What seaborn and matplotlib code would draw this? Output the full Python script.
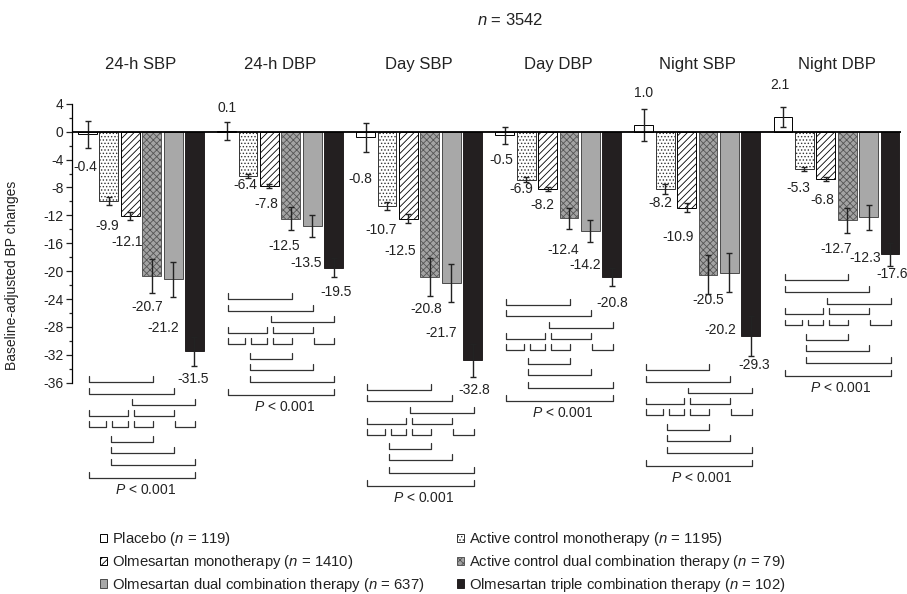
import matplotlib
matplotlib.use("Agg")
import numpy as np
import pandas as pd
import matplotlib.pyplot as plt
import seaborn as sns
from matplotlib.patches import Patch
from matplotlib.ticker import FixedLocator

# ---- data ----
measures = ["24-h SBP", "24-h DBP", "Day SBP", "Day DBP", "Night SBP", "Night DBP"]
therapies = ["Placebo", "Active control monotherapy", "Olmesartan monotherapy",
             "Active control dual combination therapy",
             "Olmesartan dual combination therapy",
             "Olmesartan triple combination therapy"]
n_counts = [119, 1195, 1410, 79, 637, 102]

placebo    = [-0.4, 0.1, -0.8, -0.5, 1.0, 2.1]
ac_mono    = [-9.9, -6.4, -10.7, -6.9, -8.2, -5.3]
olm_mono   = [-12.1, -7.8, -12.5, -8.2, -10.9, -6.8]
ac_dual    = [-20.7, -12.5, -20.8, -12.4, -20.5, -12.7]
olm_dual   = [-21.2, -13.5, -21.7, -14.2, -20.2, -12.3]
olm_triple = [-31.5, -19.5, -32.8, -20.8, -29.3, -17.6]

placebo_err    = [2.0, 1.25, 2.1, 1.2, 2.3, 1.4]
ac_mono_err    = [0.6, 0.3, 0.6, 0.35, 0.7, 0.3]
olm_mono_err   = [0.6, 0.3, 0.65, 0.3, 0.6, 0.3]
ac_dual_err    = [2.5, 1.65, 2.7, 1.5, 2.75, 1.8]
olm_dual_err   = [2.5, 1.6, 2.7, 1.6, 2.8, 1.8]
olm_triple_err = [2.1, 1.4, 2.4, 1.3, 2.9, 1.6]

values = [placebo, ac_mono, olm_mono, ac_dual, olm_dual, olm_triple]
errors = [placebo_err, ac_mono_err, olm_mono_err, ac_dual_err, olm_dual_err, olm_triple_err]

# pairwise comparisons shown under each measure (rows of brackets, bar indices)
bracket_rows = [[(0, 3)], [(0, 4)], [(2, 5)], [(0, 2), (2, 4)],
                [(0, 1), (1, 2), (2, 3), (4, 5)], [(1, 3)], [(1, 4)], [(1, 5)], [(0, 5)]]

# ---- layout: label gap below/above error bar end, label x shift (bar widths) ----
label_gap = [[2.7, 2.0, 3.9, 2.4, 2.2, 3.2],
             [3.0, 0.9, 2.8, 1.0, 1.4, 2.5],
             [3.1, 2.3, 3.9, 2.0, 3.6, 2.7],
             [1.9, 2.2, 1.9, 3.1, 0.9, 2.3],
             [4.5, 3.8, 4.5, 3.3, 5.5, 4.0],
             [1.9, 2.1, 1.9, 2.5, 1.3, 1.2]]
label_dx = [[-0.12, 0.0, -0.23, -0.14, 0.0, -0.14],
            [-0.09, -0.14, -0.30, -0.23, -0.23, -0.28],
            [-0.14, -0.14, -0.37, -0.23, -0.41, -0.14],
            [-0.19, -0.31, -0.19, -0.28, 0.0, -0.53],
            [-0.47, -0.28, -0.47, -0.26, -0.41, -0.14],
            [-0.07, 0.11, 0.07, 0.0, 0.14, 0.09]]
bracket_top = [-35.9, -24.0, -37.0, -24.8, -34.2, -21.3]
row_offsets = [0, 1.68, 3.35, 4.9, 6.5, 8.55, 10.15, 11.9, 13.8]

face = ["white", "white", "white", "#a3a3a3", "#a8a8a8", "#231f20"]
edge = ["black", "#333333", "black", "#555555", "#4a4a4a", "#231f20"]
hatch = [None, ".....", "/////", "xxxxx", None, None]

sns.set_theme(style="white")
plt.rcParams["font.family"] = ["Liberation Sans", "DejaVu Sans"]
plt.rcParams["mathtext.fontset"] = "custom"
plt.rcParams["mathtext.rm"] = "Liberation Sans"
plt.rcParams["mathtext.it"] = "Liberation Sans:italic"
plt.rcParams["axes.unicode_minus"] = False
plt.rcParams["hatch.linewidth"] = 0.6

df = pd.DataFrame({
    "measure": np.repeat([measures], len(therapies), axis=0).ravel(),
    "therapy": np.repeat(therapies, len(measures)),
    "change": np.ravel(values),
})

fig = plt.figure(figsize=(9.07, 5.94), dpi=100)
ax = fig.add_axes([0.0794, 0.1328, 0.9135, 0.7394])

sns.barplot(data=df, x="measure", y="change", hue="therapy", order=measures,
            hue_order=therapies, palette=dict(zip(therapies, face)),
            width=6 / 6.5, gap=0.12, errorbar=None, edgecolor="black",
            linewidth=0.7, legend=False, ax=ax)

bar_containers = list(ax.containers)
centers = []
for k, cont in enumerate(bar_containers):
    cx = []
    for p in cont:
        p.set_facecolor(face[k])
        p.set_edgecolor(edge[k])
        if hatch[k]:
            p.set_hatch(hatch[k])
        cx.append(p.get_x() + p.get_width() / 2)
    centers.append(cx)
    ax.errorbar(cx, values[k], yerr=errors[k], fmt="none", ecolor="#222222",
                elinewidth=1, capsize=2.5, capthick=1, zorder=4)
centers = np.array(centers)  # [therapy, measure]
s = centers[1, 0] - centers[0, 0]

# value labels
for k in range(len(therapies)):
    for g in range(len(measures)):
        v, e = values[k][g], errors[k][g]
        y = v + e + label_gap[k][g] if v > 0 else v - e - label_gap[k][g]
        ax.text(centers[k, g] + label_dx[k][g] * s, y, f"{v:.1f}", ha="center",
                va="center", fontsize=10, color="#222222")

ax.axhline(0, color="black", lw=1.3, zorder=5)

# significance brackets
tick_h = 0.85
for g in range(len(measures)):
    c = centers[:, g]
    for r, row in enumerate(bracket_rows):
        y = bracket_top[g] - row_offsets[r]
        ends = [j for _, j in row]
        starts = [i for i, _ in row]
        for i, j in row:
            x0 = c[i] + 0.08 * s
            x1 = c[j] + 0.04 * s
            if i in ends:
                x0 = c[i] + 0.16 * s
            if j in starts:
                x1 = c[j] - 0.12 * s
            ax.plot([x0, x0, x1, x1], [y + tick_h, y, y, y + tick_h],
                    color="#333333", lw=0.9, clip_on=False)
    ax.text(c.mean() + 0.2 * s, bracket_top[g] - 15.5, "$P$ < 0.001",
            ha="center", va="center", fontsize=10, color="#222222")
    ax.text(c.mean(), 9.6, measures[g], ha="center", va="center", fontsize=12,
            color="#222222")

ax.set_xlim(-0.496, 5.461)
ax.set_ylim(-55, 8)
ax.set_xticks([])
ax.set_xlabel("")
ax.set_yticks(range(-36, 5, 4))
ax.yaxis.set_minor_locator(FixedLocator(range(-34, 4, 4)))
ax.tick_params(axis="y", which="major", direction="out", length=4, width=0.9,
               labelsize=10, pad=2, left=True, colors="#222222")
ax.tick_params(axis="y", which="minor", direction="out", length=2.5, width=0.9, left=True)
ax.set_ylabel("Baseline-adjusted BP changes", fontsize=10, color="#222222")
ax.yaxis.set_label_coords(-0.064, (-20.6 + 55) / 63)
for side in ["top", "right", "bottom"]:
    ax.spines[side].set_visible(False)
ax.spines["left"].set_bounds(-36, 4)
ax.spines["left"].set_color("black")
ax.spines["left"].set_linewidth(0.9)

fig.text(510 / 907, 1 - 20 / 594, "$n$ = 3542", ha="center", va="center",
         fontsize=12, color="#222222")

order = [0, 2, 4, 1, 3, 5]
handles = [Patch(facecolor=face[k], edgecolor=edge[k], hatch=hatch[k], lw=0.7,
                 label=f"{therapies[k]} ($n$ = {n_counts[k]})") for k in order]
fig.legend(handles=handles, loc="upper left", bbox_to_anchor=(0.110, 0.107),
           ncol=2, frameon=False, fontsize=10.7, handlelength=0.5, handleheight=0.5,
           handletextpad=0.3, labelspacing=0.32, columnspacing=2.2,
           borderpad=0, borderaxespad=0, labelcolor="#222222")

fig.savefig("out.png", dpi=100)
